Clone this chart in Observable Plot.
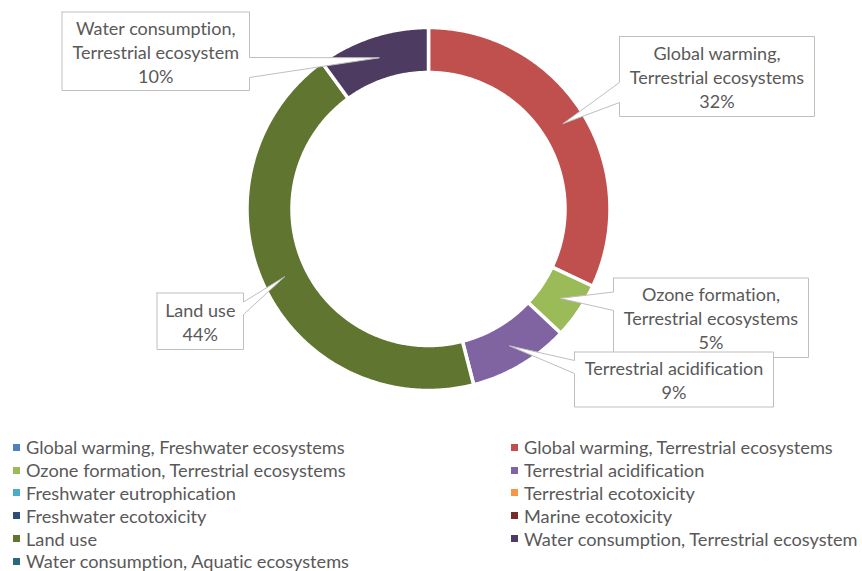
<!DOCTYPE html>
<html>
<head>
<meta charset="utf-8">
<script src="https://cdn.jsdelivr.net/npm/d3@7"></script>
<script src="https://cdn.jsdelivr.net/npm/@observablehq/plot@0.6"></script>
<style>
  body { margin: 0; background: #fff; font-family: Lato, "Open Sans", sans-serif; font-variant-ligatures: none; }
  svg text { font-variant-ligatures: none; }
  #legend {
    display: grid;
    grid-template-columns: 498px auto;
    padding: 6px 0 0 13px;
    color: #595959;
    font-size: 18.2px;
  }
  #legend .item { display: flex; align-items: center; height: 22.8px; white-space: nowrap; }
  #legend .sw { width: 7px; height: 7px; margin-right: 6px; flex: none; }
</style>
</head>
<body>
<div id="chart"></div>
<div id="legend"></div>
<script>
// Damage categories, in slice / legend order
const categories = [
  "Global warming, Freshwater ecosystems",
  "Global warming, Terrestrial ecosystems",
  "Ozone formation, Terrestrial ecosystems",
  "Terrestrial acidification",
  "Freshwater eutrophication",
  "Terrestrial ecotoxicity",
  "Freshwater ecotoxicity",
  "Marine ecotoxicity",
  "Land use",
  "Water consumption, Terrestrial ecosystem",
  "Water consumption, Aquatic ecosystems"
];

// Share of total impact, percent
const shares = [0, 32, 5, 9, 0, 0, 0, 0, 44, 10, 0];

const colors = [
  "#4F81BD", "#C0504D", "#9BBB59", "#8064A2", "#4BACC6", "#F79646",
  "#2C4D75", "#772C2A", "#5F7530", "#4D3B62", "#276A7C"
];

// ---- layout ----
const W = 862, H = 430;
const cx = 428, cy = 208.5;
const rOuter = 181.5, rInner = 136.5;   // white 3.5px stroke trims each edge
const rAnchor = (rOuter + rInner) / 2;
const fontSize = 18;

// Callout boxes: [x0, y0, x1, y1], the side carrying the pointer, and the pointer base span
const callouts = {
  "Global warming, Terrestrial ecosystems": { box: [619, 36, 814, 116], side: "left", base: [82, 102] },
  "Ozone formation, Terrestrial ecosystems": { box: [613, 277.5, 808, 357], side: "left", base: [291.5, 310] },
  "Terrestrial acidification": { box: [574, 351.5, 773, 406.5], side: "left", base: [360, 373] },
  "Land use": { box: [156.5, 292.5, 243, 349], side: "right", base: [301.5, 314] },
  "Water consumption, Terrestrial ecosystem": { box: [61.5, 11.5, 249, 90], side: "right", base: [57, 77] }
};

const data = categories.map((key, i) => ({ key, share: shares[i], color: colors[i] }));
const arcs = d3.pie().value(d => d.share).sort(null).startAngle(0).endAngle(2 * Math.PI)(data);

const px = (r, a) => cx + r * Math.sin(a);
const py = (r, a) => cy - r * Math.cos(a);

// Ring segments as closed polygons
const ringPts = [];
for (const arc of arcs) {
  if (arc.data.share <= 0) continue;
  const n = Math.max(2, Math.ceil((arc.endAngle - arc.startAngle) / (Math.PI / 360)));
  const pts = [];
  for (let k = 0; k <= n; k++) {
    const a = arc.startAngle + (arc.endAngle - arc.startAngle) * k / n;
    pts.push({ key: arc.data.key, x: px(rOuter, a), y: py(rOuter, a) });
  }
  for (let k = n; k >= 0; k--) {
    const a = arc.startAngle + (arc.endAngle - arc.startAngle) * k / n;
    pts.push({ key: arc.data.key, x: px(rInner, a), y: py(rInner, a) });
  }
  pts.push({ ...pts[0] });
  ringPts.push(...pts);
}

// Callout outline with a pointer reaching the middle of its segment
function calloutPath(c, ax, ay) {
  const [x0, y0, x1, y1] = c.box;
  const [b0, b1] = c.base;
  let p;
  if (c.side === "left") {
    p = [[x0, y0], [x1, y0], [x1, y1], [x0, y1], [x0, b1], [ax, ay], [x0, b0], [x0, y0]];
  } else {
    p = [[x0, y0], [x1, y0], [x1, b0], [ax, ay], [x1, b1], [x1, y1], [x0, y1], [x0, y0]];
  }
  return p.map(([x, y]) => ({ x, y }));
}

const labelMarks = [];
for (const arc of arcs) {
  const c = callouts[arc.data.key];
  if (!c || arc.data.share <= 0) continue;
  const mid = (arc.startAngle + arc.endAngle) / 2;
  const ax = px(rAnchor, mid), ay = py(rAnchor, mid);
  const text = arc.data.key.split(", ").join(",\n") + "\n" + arc.data.share + "%";
  const [x0, y0, x1, y1] = c.box;
  labelMarks.push(
    Plot.line(calloutPath(c, ax, ay), { x: "x", y: "y", fill: "white", stroke: "#BFBFBF", strokeWidth: 1 }),
    Plot.text([{ text }], {
      x: () => (x0 + x1) / 2, y: () => (y0 + y1) / 2, text: "text",
      fill: "#595959", fontSize, lineHeight: 1.33, textAnchor: "middle", lineAnchor: "middle"
    })
  );
}

const chart = Plot.plot({
  width: W, height: H,
  margin: 0,
  style: { fontFamily: "Lato, 'Open Sans', sans-serif", background: "white" },
  x: { domain: [0, W], range: [0, W], axis: null },
  y: { domain: [0, H], range: [0, H], axis: null },
  color: { domain: categories, range: colors },
  marks: [
    Plot.line(ringPts, { x: "x", y: "y", z: "key", fill: "key", stroke: "white", strokeWidth: 3.5 }),
    ...labelMarks
  ]
});
document.getElementById("chart").append(chart);

// Two-column legend listing every category
const legend = document.getElementById("legend");
for (const d of data) {
  const item = document.createElement("div");
  item.className = "item";
  const sw = document.createElement("span");
  sw.className = "sw";
  sw.style.background = d.color;
  item.append(sw, document.createTextNode(d.key));
  legend.append(item);
}
</script>
</body>
</html>
